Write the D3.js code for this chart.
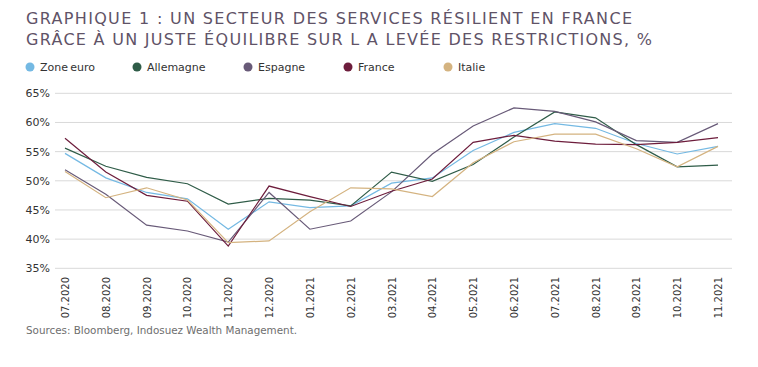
<!DOCTYPE html>
<html>
<head>
<meta charset="utf-8">
<script src="https://cdn.jsdelivr.net/npm/d3@7"></script>
<style>
  body { margin: 0; background: #fff; }
  svg { display: block; font-family: "DejaVu Sans", Verdana, sans-serif; }
</style>
</head>
<body>
<div id="chart"></div>
<script>
// months on the x axis
var months = ["07.2020", "08.2020", "09.2020", "10.2020", "11.2020", "12.2020",
  "01.2021", "02.2021", "03.2021", "04.2021", "05.2021", "06.2021",
  "07.2021", "08.2021", "09.2021", "10.2021", "11.2021"];

// series values (%)
var zoneEuro  = [54.7, 50.5, 48.0, 46.9, 41.7, 46.4, 45.4, 45.7, 49.6, 50.5, 55.2, 58.3, 59.8, 59.0, 56.4, 54.6, 55.9];
var allemagne = [55.6, 52.5, 50.6, 49.5, 46.0, 47.0, 46.7, 45.7, 51.5, 49.9, 52.8, 57.5, 61.8, 60.8, 56.2, 52.4, 52.7];
var espagne   = [51.9, 47.7, 42.4, 41.4, 39.5, 48.0, 41.7, 43.1, 48.1, 54.6, 59.4, 62.5, 61.9, 60.1, 56.9, 56.6, 59.8];
var france    = [57.3, 51.5, 47.5, 46.5, 38.8, 49.1, 47.3, 45.6, 48.2, 50.3, 56.6, 57.8, 56.8, 56.3, 56.2, 56.6, 57.4];
var italie    = [51.6, 47.1, 48.8, 46.7, 39.4, 39.7, 44.7, 48.8, 48.6, 47.3, 53.1, 56.7, 58.0, 58.0, 55.5, 52.4, 55.9];

var yTicks = [35, 40, 45, 50, 55, 60, 65];

var series = [
  {name: "Zone\u2009euro", values: zoneEuro, color: "#74b9e3"},
  {name: "Allemagne", values: allemagne, color: "#2f5c48"},
  {name: "Espagne", values: espagne, color: "#685a78"},
  {name: "France", values: france, color: "#6d1d3c"},
  {name: "Italie", values: italie, color: "#d4b380"}
];

var width = 758, height = 367;

var svg = d3.select("#chart")
  .append("svg")
  .attr("width", width)
  .attr("height", height);

// title
var title = svg.append("g").attr("fill", "#5f5367");
title.append("text")
  .attr("x", 26).attr("y", 23.5)
  .attr("font-size", 16)
  .attr("textLength", 606).attr("lengthAdjust", "spacing")
  .text("GRAPHIQUE 1 : UN SECTEUR DES SERVICES RÉSILIENT EN FRANCE");
title.append("text")
  .attr("x", 26).attr("y", 44.5)
  .attr("font-size", 16)
  .attr("textLength", 626).attr("lengthAdjust", "spacing")
  .text("GRÂCE À UN JUSTE ÉQUILIBRE SUR L A LEVÉE DES RESTRICTIONS, %");

// legend
var legendX = [30, 137, 248, 348, 448];
var legend = svg.append("g")
  .selectAll("g")
  .data(series)
  .join("g")
  .attr("transform", function(d, i) { return "translate(" + legendX[i] + ",67)"; });
legend.append("circle")
  .attr("r", 4.5)
  .attr("fill", function(d) { return d.color; });
legend.append("text")
  .attr("x", 10).attr("y", 4)
  .attr("font-size", 11)
  .attr("fill", "#333")
  .text(function(d) { return d.name; });

// scales
var x = d3.scalePoint()
  .domain(months)
  .range([65, 718]);

var y = d3.scaleLinear()
  .domain([35, 65])
  .range([268.3, 93.3]);

// grid lines
svg.append("g")
  .selectAll("line")
  .data(yTicks)
  .join("line")
  .attr("x1", 55).attr("x2", 732)
  .attr("y1", function(d) { return y(d); })
  .attr("y2", function(d) { return y(d); })
  .attr("stroke", "#d9d9d9")
  .attr("stroke-width", 1);

// y axis labels
var yAxis = svg.append("g")
  .attr("transform", "translate(50,0)")
  .call(d3.axisLeft(y).tickValues(yTicks).tickSize(0).tickPadding(0)
    .tickFormat(function(d) { return d + "%"; }));
yAxis.select(".domain").remove();
yAxis.selectAll("text")
  .attr("font-size", 11)
  .attr("font-family", "DejaVu Sans, sans-serif")
  .attr("fill", "#333");

// x axis labels (rotated)
var xAxis = svg.append("g")
  .attr("transform", "translate(0,275)")
  .call(d3.axisBottom(x).tickSize(0).tickPadding(0));
xAxis.select(".domain").remove();
xAxis.selectAll("text")
  .attr("font-size", 10)
  .attr("font-family", "DejaVu Sans, sans-serif")
  .attr("fill", "#333")
  .attr("transform", "rotate(-90)")
  .attr("text-anchor", "end")
  .attr("x", -2)
  .attr("y", 0)
  .attr("dy", "0.35em");

// lines
var line = d3.line()
  .x(function(d, i) { return x(months[i]); })
  .y(function(d) { return y(d); });

svg.append("g")
  .selectAll("path")
  .data(series)
  .join("path")
  .attr("d", function(d) { return line(d.values); })
  .attr("fill", "none")
  .attr("stroke", function(d) { return d.color; })
  .attr("stroke-width", 1.2);

// source
svg.append("text")
  .attr("x", 26).attr("y", 334)
  .attr("font-size", 10)
  .attr("fill", "#6e6e6e")
  .attr("textLength", 271).attr("lengthAdjust", "spacingAndGlyphs")
  .text("Sources: Bloomberg, Indosuez Wealth Management.");
</script>
</body>
</html>
